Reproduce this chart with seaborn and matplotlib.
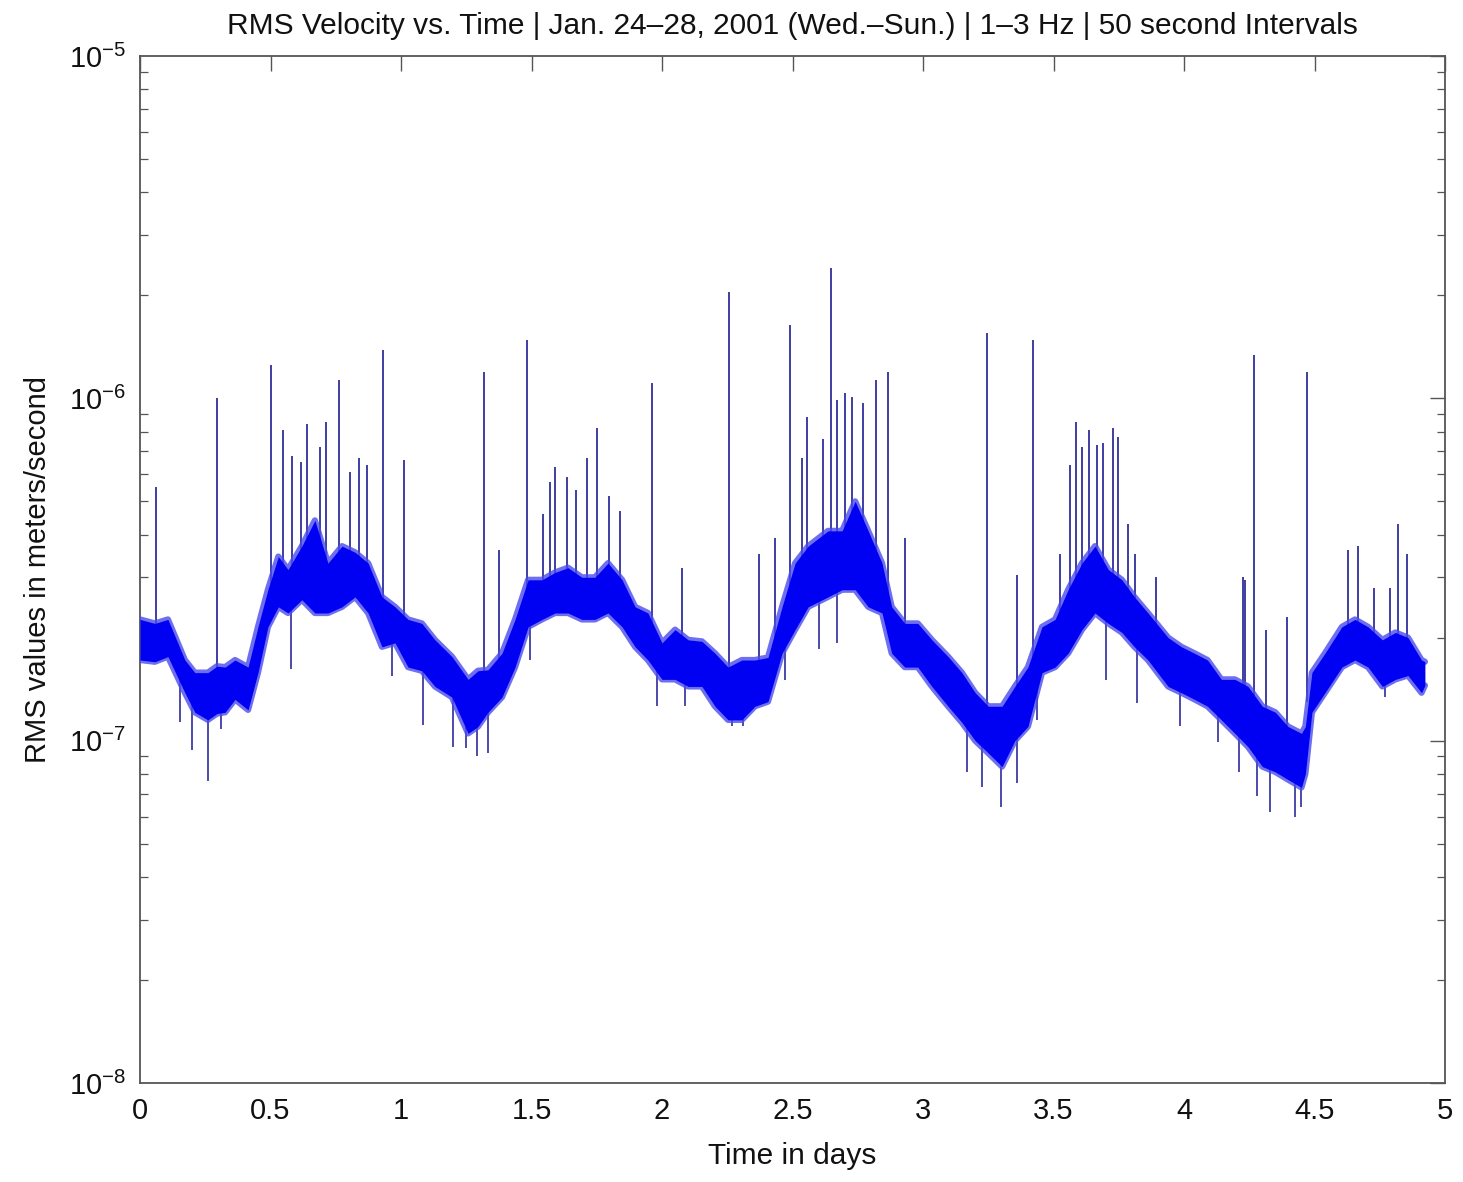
import numpy as np
import pandas as pd
import matplotlib
matplotlib.use("Agg")
import matplotlib.pyplot as plt
import seaborn as sns
from matplotlib.ticker import LogLocator, NullFormatter, FixedLocator

# ---------------- data (values in units of 1e-7 m/s) ----------------
UNIT = 1e-7

env_t = [0.0, 0.057, 0.107, 0.172, 0.21, 0.26, 0.295, 0.326, 0.364, 0.414, 0.452,
         0.49, 0.53, 0.567, 0.62, 0.67, 0.72, 0.774, 0.824, 0.874, 0.927, 0.977,
         1.027, 1.08, 1.13, 1.195, 1.257, 1.295, 1.333, 1.387, 1.437, 1.487, 1.54,
         1.59, 1.64, 1.693, 1.743, 1.793, 1.847, 1.897, 1.946, 2.0, 2.05, 2.10,
         2.153, 2.203, 2.253, 2.306, 2.356, 2.406, 2.46, 2.51, 2.56, 2.636, 2.69,
         2.74, 2.79, 2.843, 2.88, 2.93, 2.98, 3.034, 3.096, 3.149, 3.2, 3.25,
         3.303, 3.352, 3.402, 3.456, 3.506, 3.556, 3.609, 3.659, 3.71, 3.762,
         3.81, 3.862, 3.939, 3.99, 4.04, 4.09, 4.143, 4.195, 4.245, 4.3, 4.35,
         4.398, 4.45, 4.465, 4.49, 4.54, 4.605, 4.655, 4.705, 4.76, 4.81, 4.858,
         4.91, 4.923]
env_lo = [1.72, 1.70, 1.76, 1.38, 1.21, 1.15, 1.20, 1.21, 1.32, 1.23, 1.58,
          2.15, 2.46, 2.36, 2.58, 2.36, 2.36, 2.46, 2.63, 2.36, 1.88, 1.93,
          1.64, 1.60, 1.44, 1.34, 1.05, 1.10, 1.21, 1.34, 1.64, 2.15, 2.26,
          2.36, 2.36, 2.26, 2.26, 2.36, 2.15, 1.88, 1.72, 1.51, 1.51, 1.44,
          1.44, 1.26, 1.15, 1.15, 1.26, 1.30, 1.80, 2.11, 2.46, 2.63, 2.76,
          2.76, 2.46, 2.36, 1.80, 1.64, 1.64, 1.44, 1.26, 1.13, 1.00, 0.92,
          0.84, 1.00, 1.10, 1.58, 1.64, 1.80, 2.11, 2.36, 2.20, 2.07,
          1.88, 1.72, 1.44, 1.38, 1.32, 1.26, 1.15, 1.05, 0.96, 0.84, 0.81,
          0.77, 0.73, 0.80, 1.21, 1.38, 1.64, 1.72, 1.64, 1.44, 1.51, 1.55,
          1.38, 1.45]
env_hi = [2.26, 2.20, 2.26, 1.72, 1.58, 1.58, 1.65, 1.64, 1.72, 1.64, 2.15,
          2.76, 3.45, 3.16, 3.70, 4.40, 3.30, 3.70, 3.55, 3.30, 2.63, 2.46,
          2.26, 2.20, 1.97, 1.76, 1.51, 1.60, 1.61, 1.80, 2.26, 2.95, 2.95,
          3.10, 3.20, 3.00, 3.00, 3.30, 2.95, 2.46, 2.36, 1.93, 2.11, 1.97,
          1.95, 1.80, 1.64, 1.72, 1.72, 1.75, 2.46, 3.30, 3.70, 4.10, 4.10,
          5.00, 4.10, 3.30, 2.46, 2.20, 2.20, 1.97, 1.76, 1.58, 1.38, 1.26,
          1.26, 1.44, 1.64, 2.15, 2.26, 2.76, 3.30, 3.70, 3.16, 2.95,
          2.63, 2.36, 2.00, 1.88, 1.80, 1.72, 1.51, 1.51, 1.44, 1.26, 1.21,
          1.10, 1.05, 1.10, 1.58, 1.80, 2.15, 2.26, 2.15, 1.97, 2.07, 2.00,
          1.72, 1.70]

spike_t = [0.061, 0.295, 0.502, 0.548, 0.582, 0.617, 0.640, 0.690, 0.713, 0.762,
           0.805, 0.839, 0.870, 0.931, 1.011, 1.318, 1.375, 1.483, 1.544, 1.571,
           1.590, 1.636, 1.670, 1.713, 1.751, 1.797, 1.839, 1.962, 2.077, 2.257,
           2.372, 2.433, 2.490, 2.536, 2.556, 2.617, 2.648, 2.670, 2.701, 2.728,
           2.770, 2.820, 2.866, 2.931, 3.245, 3.360, 3.421, 3.525, 3.563, 3.586,
           3.609, 3.636, 3.667, 3.690, 3.728, 3.747, 3.785, 3.812, 3.893, 4.226,
           4.234, 4.268, 4.314, 4.395, 4.471, 4.628, 4.667, 4.728, 4.789, 4.820,
           4.854]
spike_base = [2.0, 1.4, 2.4, 2.8, 2.7, 3.0, 3.0, 3.2, 2.9, 3.0,
              3.0, 3.0, 2.8, 2.2, 2.0, 1.4, 1.5, 2.4, 2.7, 2.7,
              2.7, 2.7, 2.6, 2.6, 2.6, 2.8, 2.6, 2.0, 1.8, 1.4,
              1.45, 1.7, 2.3, 2.8, 3.0, 3.0, 3.2, 3.2, 3.2, 3.6,
              3.3, 2.8, 2.3, 1.9, 1.1, 1.2, 1.4, 1.9, 2.1, 2.3,
              2.6, 2.8, 2.9, 2.8, 2.6, 2.5, 2.3, 2.2, 1.7, 1.2,
              1.2, 1.1, 1.0, 0.95, 1.3, 1.9, 1.95, 1.8, 1.75, 1.8,
              1.7]
spike_peak = [5.5, 10.0, 12.5, 8.1, 6.8, 6.5, 8.4, 7.2, 8.5, 11.3,
              6.1, 6.7, 6.4, 13.8, 6.6, 11.9, 3.6, 14.8, 4.6, 5.7,
              6.3, 5.9, 5.4, 6.7, 8.2, 5.2, 4.7, 11.1, 3.2, 20.5,
              3.5, 3.9, 16.4, 6.7, 8.8, 7.6, 24.0, 9.9, 10.4, 10.1,
              9.7, 11.3, 11.9, 3.9, 15.5, 3.05, 14.8, 3.5, 6.4, 8.5,
              7.2, 8.1, 7.3, 7.4, 8.2, 7.7, 4.3, 3.5, 3.0, 3.0,
              2.95, 13.4, 2.1, 2.3, 11.9, 3.6, 3.7, 2.8, 2.8, 4.3,
              3.5]

dip_t = [0.153, 0.20, 0.26, 0.31, 0.58, 0.964, 1.085, 1.20, 1.25, 1.29, 1.333,
         1.495, 1.98, 2.088, 2.27, 2.31, 2.47, 2.60, 2.67, 3.17, 3.226, 3.30,
         3.36, 3.437, 3.70, 3.82, 3.985, 4.13, 4.21, 4.28, 4.33, 4.425, 4.45,
         4.77]
dip_low = [1.13, 0.94, 0.76, 1.08, 1.62, 1.54, 1.11, 0.96, 0.95, 0.90, 0.92,
           1.72, 1.26, 1.26, 1.10, 1.10, 1.50, 1.85, 1.93, 0.81, 0.73, 0.64,
           0.75, 1.15, 1.50, 1.29, 1.10, 0.99, 0.81, 0.69, 0.62, 0.60, 0.64,
           1.34]
dip_top = [1.6, 1.4, 1.3, 1.4, 2.7, 2.2, 1.9, 1.5, 1.3, 1.3, 1.4,
           2.5, 1.7, 1.7, 1.4, 1.4, 2.1, 3.0, 3.2, 1.3, 1.1, 1.0,
           1.2, 1.8, 2.6, 2.2, 1.6, 1.4, 1.2, 1.1, 1.0, 0.95, 0.9,
           1.7]

x_ticks = [0, 0.5, 1, 1.5, 2, 2.5, 3, 3.5, 4, 4.5, 5]
x_tick_labels = ["0", "0.5", "1", "1.5", "2", "2.5", "3", "3.5", "4", "4.5", "5"]
y_ticks = [1e-8, 1e-7, 1e-6, 1e-5]
y_tick_labels = [r"$10^{-8}$", r"$10^{-7}$", r"$10^{-6}$", r"$10^{-5}$"]

title = "RMS Velocity vs. Time | Jan. 24\u201328, 2001 (Wed.\u2013Sun.) | 1\u20133 Hz | 50 second Intervals"
xlabel = "Time in days"
ylabel = "RMS values in meters/second"

# ---------------- style ----------------
sns.set_style("white")
plt.rcParams["font.family"] = ["Liberation Sans", "DejaVu Sans"]
plt.rcParams["mathtext.fontset"] = "custom"
plt.rcParams["mathtext.rm"] = "Liberation Sans"
plt.rcParams["mathtext.it"] = "Liberation Sans"
plt.rcParams["mathtext.bf"] = "Liberation Sans"

fig = plt.figure(figsize=(14.63, 11.82), dpi=100)
ax = fig.add_axes([0.0957, 0.0838, 0.8920, 0.8688])

env = pd.DataFrame({"t": env_t, "lo": np.array(env_lo) * UNIT, "hi": np.array(env_hi) * UNIT})
spikes = pd.DataFrame({"t": spike_t, "base": np.array(spike_base) * UNIT,
                       "peak": np.array(spike_peak) * UNIT})
dips = pd.DataFrame({"t": dip_t, "low": np.array(dip_low) * UNIT, "top": np.array(dip_top) * UNIT})

core = "#0000f2"
halo = "#4a4aee"
spike_c = "#3e3ea4"

ax.vlines(spikes["t"], spikes["base"], spikes["peak"], color=spike_c, lw=1.4, zorder=2)
ax.vlines(dips["t"], dips["low"], dips["top"], color=spike_c, lw=1.3, zorder=2)
sns.lineplot(data=env, x="t", y="hi", ax=ax, color=halo, lw=4.5, alpha=0.8,
             estimator=None, zorder=3)
sns.lineplot(data=env, x="t", y="lo", ax=ax, color=halo, lw=4.5, alpha=0.8,
             estimator=None, zorder=3)
ax.fill_between(env["t"], env["lo"], env["hi"], color=core, lw=0, zorder=4)

ax.set_yscale("log")
ax.set_xlim(0, 5)
ax.set_ylim(1e-8, 1e-5)
ax.xaxis.set_major_locator(FixedLocator(x_ticks))
ax.set_xticklabels(x_tick_labels)
ax.yaxis.set_major_locator(FixedLocator(y_ticks))
ax.set_yticklabels(y_tick_labels)
ax.yaxis.set_minor_locator(LogLocator(base=10, subs=np.arange(2, 10), numticks=20))
ax.yaxis.set_minor_formatter(NullFormatter())

ax.tick_params(which="major", direction="in", length=11, width=1.0, color="#555555",
               top=True, right=True, labelsize=21, pad=10, labelcolor="#111111")
ax.tick_params(which="minor", direction="in", length=6, width=0.9, color="#555555",
               left=True, right=True)
for s in ax.spines.values():
    s.set_color("#555555")
    s.set_linewidth(1.3)
    s.set_visible(True)

ax.set_title(title, fontsize=21.5, color="#111111", pad=16)
ax.set_xlabel(xlabel, fontsize=21.5, color="#111111", labelpad=12)
ax.set_ylabel(ylabel, fontsize=21, color="#111111", labelpad=12)
ax.grid(False)

fig.savefig("out.png", dpi=100, facecolor="white")
